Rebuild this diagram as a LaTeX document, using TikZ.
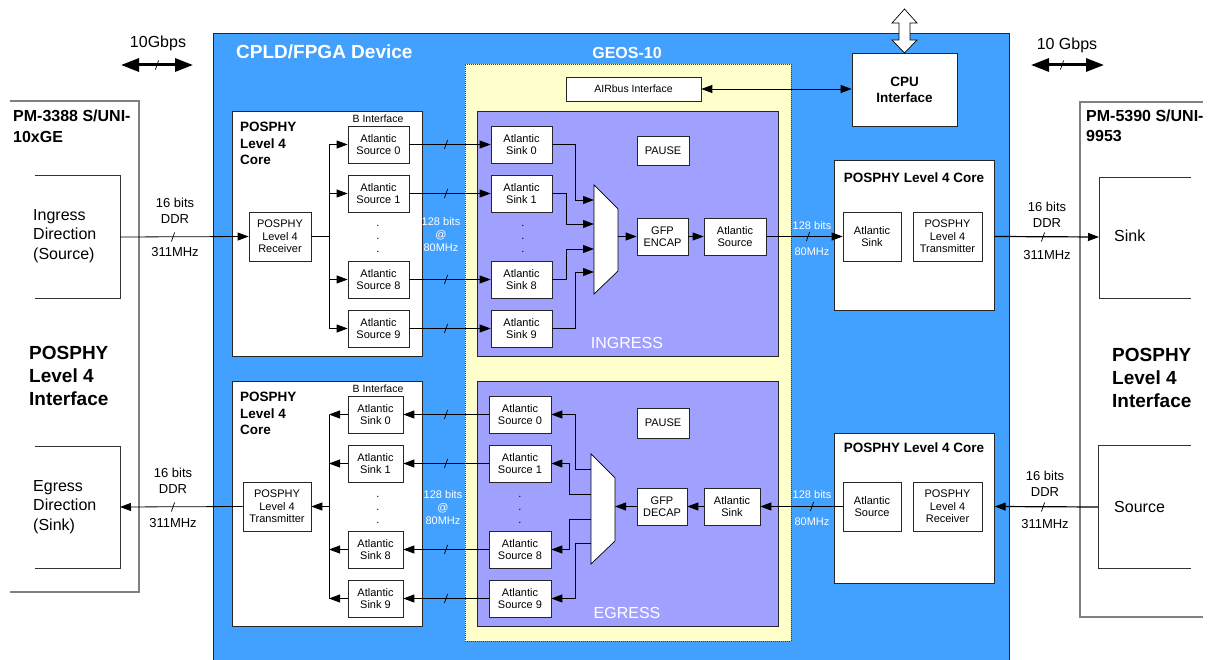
\documentclass[tikz,border=0pt]{standalone}
\usepackage{fontspec}
\setmainfont{Liberation Sans}
\usetikzlibrary{arrows.meta}
\definecolor{cpldblue}{RGB}{66,160,255}
\definecolor{geosyellow}{RGB}{255,255,204}
\definecolor{ppurple}{RGB}{160,160,255}
\definecolor{edgegray}{RGB}{128,128,128}
\newcommand\slashmark[2]{\draw[line width=0.7pt] (#1,#2) ++(-1.6,4.5) -- ++(3.2,-9);}
\begin{document}
\begin{tikzpicture}[x=1pt,y=-1pt,
  box/.style={draw=black!85, fill=white, line width=0.7pt, inner sep=0pt, align=center, font=\fontsize{11}{12.5}\selectfont},
  area/.style={draw=black!85, line width=0.7pt, inner sep=0pt, anchor=north west},
  conn/.style={line width=0.8pt, draw=black},
  arr/.style={conn, -{Triangle[length=11pt,width=8pt]}},
  biarr/.style={conn, {Triangle[length=11pt,width=8pt]}-{Triangle[length=11pt,width=8pt]}},
  bigarr/.style={line width=3pt, {Triangle[length=18pt,width=13pt]}-{Triangle[length=18pt,width=13pt]}},
  wtxt/.style={text=white, align=center, inner sep=0pt, font=\fontsize{11}{13}\selectfont},
  lbl/.style={align=center, inner sep=0pt, font=\fontsize{13}{16}\selectfont},
  ctitle/.style={inner sep=0pt, anchor=west, align=left, font=\bfseries\fontsize{13.5}{16.5}\selectfont},
  dotnode/.style={inner sep=0pt, anchor=base, font=\fontsize{11}{13}\selectfont},
  bigtxt/.style={inner sep=0pt, anchor=west, align=left, font=\fontsize{16}{19.5}\selectfont},
  bigbold/.style={inner sep=0pt, anchor=west, align=left, font=\bfseries\fontsize{19}{23}\selectfont},
  pmbold/.style={inner sep=0pt, anchor=west, align=left, font=\bfseries\fontsize{16}{20.5}\selectfont},
]
\useasboundingbox (0,0) rectangle (1210,660);

% ---------- containers ----------
\node[area, fill=cpldblue, minimum width=796, minimum height=640] (cpld) at (213,33) {};
\node[area, fill=geosyellow, draw=black!75, dash pattern=on 1pt off 1pt, minimum width=326, minimum height=577] (geos) at (465,64) {};
\node[area, fill=ppurple, minimum width=301, minimum height=245] (ing) at (477,111) {};
\node[area, fill=ppurple, minimum width=301, minimum height=245] (egr) at (477,381) {};
\node[area, fill=white, minimum width=190, minimum height=245] (lc1) at (232,111) {};
\node[area, fill=white, minimum width=190, minimum height=245] (lc2) at (232,381) {};
\node[area, fill=white, minimum width=160, minimum height=150] (rc1) at (834,160) {};
\node[area, fill=white, minimum width=160, minimum height=150] (rc2) at (834,433) {};

% titles
\node[inner sep=0pt, anchor=west, text=white, font=\bfseries\fontsize{19}{22}\selectfont] (cpldt) at (236,52) {CPLD/FPGA Device};
\node[inner sep=0pt, text=white, font=\bfseries\fontsize{16}{19}\selectfont] (geost) at (627,53) {GEOS-10};
\node[inner sep=0pt, text=white, font=\fontsize{16}{19}\selectfont] (ingt) at (627,343) {INGRESS};
\node[inner sep=0pt, text=white, font=\fontsize{16}{19}\selectfont] (egrt) at (627,613) {EGRESS};
\node[ctitle] (lc1t) at (240,143.5) {POSPHY\\Level 4\\Core};
\node[ctitle] (lc2t) at (240,413.5) {POSPHY\\Level 4\\Core};
\node[inner sep=0pt, font=\fontsize{10.5}{12}\selectfont] (bi1) at (378,119) {B Interface};
\node[inner sep=0pt, font=\fontsize{10.5}{12}\selectfont] (bi2) at (378,389) {B Interface};
\node[inner sep=0pt, font=\bfseries\fontsize{13.5}{16}\selectfont] (rc1t) at (914,178) {POSPHY Level 4 Core};
\node[inner sep=0pt, font=\bfseries\fontsize{13.5}{16}\selectfont] (rc2t) at (914,448) {POSPHY Level 4 Core};

% ---------- left external device ----------
\draw[edgegray, line width=1.5pt] (10,101) -- (139,101) -- (139,592) -- (10,592);
\draw[black!80, line width=0.7pt] (35,175) -- (120,175) -- (120,298) -- (35,298);
\draw[black!80, line width=0.7pt] (35,446) -- (120,446) -- (120,568) -- (35,568);
\coordinate (ingR) at (120,237);
\coordinate (egrR) at (120,507);
\node[pmbold] (pm1) at (13,126.5) {PM-3388 S/UNI-\\10xGE};
\node[bigbold] (pl1) at (29,376) {POSPHY\\Level 4\\Interface};
\node[bigtxt] (ingtx) at (33,236) {Ingress\\Direction\\(Source)};
\node[bigtxt] (egrtx) at (33,507) {Egress\\Direction\\(Sink)};

% ---------- right external device ----------
\draw[edgegray, line width=1.5pt] (1203,102) -- (1080,102) -- (1080,617) -- (1203,617);
\draw[black!80, line width=0.7pt] (1191,177) -- (1099,177) -- (1099,298) -- (1191,298);
\draw[black!80, line width=0.7pt] (1191,445) -- (1098,445) -- (1098,568) -- (1191,568);
\coordinate (sinkL) at (1099,237);
\coordinate (srcL) at (1098,507);
\node[pmbold] (pm2) at (1086,126) {PM-5390 S/UNI-\\9953};
\node[bigbold] (pl2) at (1112,377.5) {POSPHY\\Level 4\\Interface};
\node[bigtxt] (sinktx) at (1114,236) {Sink};
\node[bigtxt] (srctx) at (1114,507) {Source};

% ---------- left upper core ----------
\node[box, minimum width=62, minimum height=49] (rx) at (280,236.5) {POSPHY\\Level 4\\Receiver};
\node[box, minimum width=61, minimum height=37] (s0) at (378.5,144.5) {Atlantic\\Source 0};
\node[box, minimum width=61, minimum height=37] (s1) at (378.5,193.5) {Atlantic\\Source 1};
\node[box, minimum width=61, minimum height=37] (s8) at (378.5,279.5) {Atlantic\\Source 8};
\node[box, minimum width=61, minimum height=37] (s9) at (378.5,328.5) {Atlantic\\Source 9};
\foreach \yy in {227,240,253} \node[dotnode] at (378,\yy) {.};

% ---------- left lower core ----------
\node[box, minimum width=68, minimum height=49] (tx) at (277,506.5) {POSPHY\\Level 4\\Transmitter};
\node[box, minimum width=55, minimum height=37] (t0) at (375.5,414.5) {Atlantic\\Sink 0};
\node[box, minimum width=55, minimum height=37] (t1) at (375.5,463.5) {Atlantic\\Sink 1};
\node[box, minimum width=55, minimum height=37] (t8) at (375.5,549.5) {Atlantic\\Sink 8};
\node[box, minimum width=55, minimum height=37] (t9) at (375.5,598.5) {Atlantic\\Sink 9};
\foreach \yy in {497,510,523} \node[dotnode] at (378,\yy) {.};

% ---------- GEOS ingress ----------
\node[box, minimum width=135, minimum height=24, font=\fontsize{10.5}{12}\selectfont] (air) at (633.5,89) {AIRbus Interface};
\node[box, minimum width=61, minimum height=37] (k0) at (521.5,144.5) {Atlantic\\Sink 0};
\node[box, minimum width=61, minimum height=37] (k1) at (521.5,193.5) {Atlantic\\Sink 1};
\node[box, minimum width=61, minimum height=37] (k8) at (521.5,279.5) {Atlantic\\Sink 8};
\node[box, minimum width=61, minimum height=37] (k9) at (521.5,328.5) {Atlantic\\Sink 9};
\foreach \yy in {227,240,253} \node[dotnode] at (523,\yy) {.};
\node[box, minimum width=52, minimum height=29] (p1) at (663,150.5) {PAUSE};
\draw[fill=white, line width=0.7pt] (594,185) -- (618,209) -- (618,271) -- (594,294) -- cycle;
\coordinate (mi0) at (594,200);
\coordinate (mi1) at (594,224);
\coordinate (mi8) at (594,249);
\coordinate (mi9) at (594,272);
\coordinate (mio) at (618,236.5);
\node[box, minimum width=51, minimum height=37] (ge) at (662.5,236.5) {GFP\\ENCAP};
\node[box, minimum width=62, minimum height=37] (isrc) at (735,236.5) {Atlantic\\Source};

% ---------- GEOS egress ----------
\node[box, minimum width=62, minimum height=37] (es0) at (520,414.5) {Atlantic\\Source 0};
\node[box, minimum width=62, minimum height=37] (es1) at (520,463.5) {Atlantic\\Source 1};
\node[box, minimum width=62, minimum height=37] (es8) at (520,549.5) {Atlantic\\Source 8};
\node[box, minimum width=62, minimum height=37] (es9) at (520,598.5) {Atlantic\\Source 9};
\foreach \yy in {497,510,523} \node[dotnode] at (520,\yy) {.};
\node[box, minimum width=52, minimum height=30] (p2) at (663,423) {PAUSE};
\draw[fill=white, line width=0.7pt] (591,454) -- (615,478) -- (615,541) -- (591,564) -- cycle;
\coordinate (mo0) at (591,469);
\coordinate (mo1) at (591,494);
\coordinate (mo8) at (591,519);
\coordinate (mo9) at (591,543);
\coordinate (moi) at (615,506.5);
\node[box, minimum width=50, minimum height=37] (gd) at (662,506.5) {GFP\\DECAP};
\node[box, minimum width=56, minimum height=37] (esk) at (732,506.5) {Atlantic\\Sink};

% ---------- right cores ----------
\node[box, minimum width=58, minimum height=49] (rsk) at (872,236.5) {Atlantic\\Sink};
\node[box, minimum width=69, minimum height=49] (rtx) at (947.5,236.5) {POSPHY\\Level 4\\Transmitter};
\node[box, minimum width=58, minimum height=49] (rsr) at (872,506.5) {Atlantic\\Source};
\node[box, minimum width=69, minimum height=49] (rrx) at (947.5,506.5) {POSPHY\\Level 4\\Receiver};

% ---------- CPU ----------
\node[box, minimum width=105, minimum height=73, font=\bfseries\fontsize{13.5}{16}\selectfont] (cpu) at (904.5,89.5) {CPU\\Interface};
\draw[fill=white, line width=0.7pt] (904.5,9) -- (917,23) -- (910,23) -- (910,40) -- (917,40) -- (904.5,53) -- (892,40) -- (899,40) -- (899,23) -- (892,23) -- cycle;
\draw[biarr] (air.east) -- (air.east -| cpu.west);

% ---------- connectors: ingress ----------
\draw[arr] (ingR) -- (rx.west);
\coordinate (busT) at (329,144.5);
\coordinate (busB) at (329,328.5);
\draw[conn] (rx.east) -- (rx.east -| busT);
\draw[conn] (busT) -- (busB);
\draw[arr] (busT) -- (s0.west);
\draw[arr] (s1.west -| busT) -- (s1.west);
\draw[arr] (s8.west -| busT) -- (s8.west);
\draw[arr] (busB) -- (s9.west);
\draw[arr] (s0.east) -- (k0.west);
\draw[arr] (s1.east) -- (k1.west);
\draw[arr] (s8.east) -- (k8.west);
\draw[arr] (s9.east) -- (k9.west);
\foreach \yy in {144.5,193.5,279.5,328.5} {\slashmark{446}{\yy}}
\draw[arr] (k0.east) -- (575,144.5) -- (575,200) -- (mi0);
\draw[arr] (k1.east) -- (566,193.5) -- (566,224) -- (mi1);
\draw[arr] (k8.east) -- (566,279.5) -- (566,249) -- (mi8);
\draw[arr] (k9.east) -- (575,328.5) -- (575,272) -- (mi9);
\draw[arr] (mio) -- (ge.west);
\draw[arr] (ge.east) -- (isrc.west);
\draw[arr] (isrc.east) -- (rsk.west);
\slashmark{808}{236.5}
\draw[arr, line width=1.2pt] (rtx.east -| rc1.east) -- (sinkL);
\slashmark{1043}{237}

% ---------- connectors: egress ----------
\draw[arr, line width=1.2pt] (srcL) -- (rrx.east -| rc2.east);
\slashmark{1043}{507}
\draw[arr] (rsr.west) -- (esk.east);
\slashmark{812}{506.5}
\draw[arr] (esk.west) -- (gd.east);
\draw[arr] (gd.west) -- (moi);
\draw[arr] (mo0) -- (575,469) -- (575,414.5) -- (es0.east);
\draw[arr] (mo1) -- (569,494) -- (569,463.5) -- (es1.east);
\draw[arr] (mo8) -- (569,519) -- (569,549.5) -- (es8.east);
\draw[arr] (mo9) -- (575,543) -- (575,598.5) -- (es9.east);
\draw[arr] (es0.west) -- (t0.east);
\draw[arr] (es1.west) -- (t1.east);
\draw[arr] (es8.west) -- (t8.east);
\draw[arr] (es9.west) -- (t9.east);
\foreach \yy in {414.5,463.5,549.5,598.5} {\slashmark{446}{\yy}}
\coordinate (ebT) at (329,414.5);
\coordinate (ebB) at (329,598.5);
\draw[conn] (ebT) -- (ebB);
\draw[arr] (t0.west) -- (ebT);
\draw[arr] (t1.west) -- (t1.west -| ebT);
\draw[arr] (t8.west) -- (t8.west -| ebT);
\draw[arr] (t9.west) -- (ebB);
\draw[arr] (tx.east -| ebT) -- (tx.east);
\draw[arr] (tx.west) -- (egrR);
\slashmark{173}{507}
\slashmark{173}{237}

% ---------- link labels ----------
\node[lbl] (l1) at (175,211) {16 bits\\DDR};
\node[lbl] (l2) at (175,252) {311MHz};
\node[lbl] (l3) at (173,481) {16 bits\\DDR};
\node[lbl] (l4) at (173,523) {311MHz};
\node[lbl] (l5) at (1047,214.5) {16 bits\\DDR};
\node[lbl] (l6) at (1047,255) {311MHz};
\node[lbl] (l7) at (1045,483.5) {16 bits\\DDR};
\node[lbl] (l8) at (1045,524) {311MHz};
\node[wtxt] (w1) at (441,235) {128 bits\\@\\80MHz};
\node[wtxt] (w2) at (443,508) {128 bits\\@\\80MHz};
\node[wtxt] (w3) at (812,226) {128 bits};
\node[wtxt] (w4) at (812,252) {80MHz};
\node[wtxt] (w5) at (812,495) {128 bits};
\node[wtxt] (w6) at (812,522) {80MHz};

% ---------- 10 Gbps ----------
\node[inner sep=0pt, font=\fontsize{16}{19}\selectfont] (g1) at (158,43) {10Gbps};
\coordinate (g1a) at (121,65);
\coordinate (g1b) at (193,65);
\draw[bigarr] (g1a) -- (g1b);
\slashmark{157}{65}
\node[inner sep=0pt, font=\fontsize{16}{19}\selectfont] (g2) at (1067,45) {10 Gbps};
\coordinate (g2a) at (1031,65);
\coordinate (g2b) at (1104,65);
\draw[bigarr] (g2a) -- (g2b);
\slashmark{1062}{65}
\end{tikzpicture}
\end{document}
